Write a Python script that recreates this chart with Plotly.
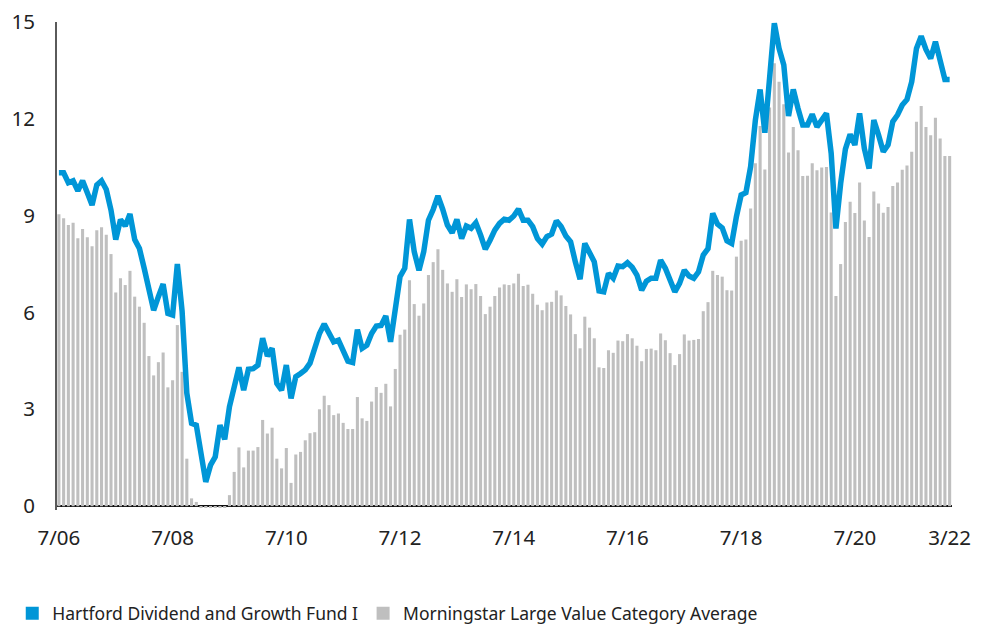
import plotly.graph_objects as go
import pandas as pd

# Monthly categories, July 2006 - March 2022
months = [d.strftime("%Y-%m") for d in pd.date_range("2006-07-01", "2022-03-01", freq="MS")]

fund_name = "Hartford Dividend and Growth Fund I"
cat_name = "Morningstar Large Value Category Average"

fund = [
    10.33, 10.33, 10.02, 10.08, 9.77, 10.08, 9.71, 9.33, 9.95, 10.08,
    9.81, 9.17, 8.26, 8.88, 8.68, 9.05, 8.26, 7.98, 7.37, 6.69,
    6.07, 6.49, 6.88, 5.97, 5.92, 7.50, 6.05, 3.50, 2.57, 2.51,
    1.74, 0.75, 1.27, 1.53, 2.51, 2.07, 3.08, 3.70, 4.30, 3.59,
    4.24, 4.26, 4.37, 5.20, 4.65, 4.89, 3.80, 3.59, 4.37, 3.34,
    4.01, 4.11, 4.22, 4.43, 4.86, 5.35, 5.64, 5.35, 5.09, 5.14,
    4.78, 4.49, 4.45, 5.47, 4.89, 4.99, 5.35, 5.58, 5.60, 5.89,
    5.09, 6.23, 7.11, 7.37, 8.88, 7.88, 7.31, 7.88, 8.86, 9.19,
    9.61, 9.20, 8.71, 8.47, 8.88, 8.29, 8.68, 8.61, 8.78, 8.40,
    7.96, 8.24, 8.55, 8.76, 8.89, 8.86, 8.99, 9.20, 8.86, 8.86,
    8.66, 8.29, 8.12, 8.35, 8.43, 8.84, 8.66, 8.37, 8.19, 7.57,
    7.03, 8.14, 7.84, 7.57, 6.67, 6.64, 7.21, 7.06, 7.44, 7.42,
    7.54, 7.40, 7.16, 6.69, 6.97, 7.06, 7.06, 7.62, 7.37, 6.95,
    6.64, 6.90, 7.31, 7.13, 7.06, 7.26, 7.78, 7.98, 9.07, 8.74,
    8.62, 8.22, 8.14, 8.97, 9.64, 9.71, 10.52, 11.96, 12.91, 11.57,
    13.30, 14.96, 14.18, 13.67, 12.09, 12.91, 12.32, 11.81, 11.81, 12.14,
    11.75, 11.98, 12.17, 10.93, 8.60, 10.00, 11.06, 11.52, 11.19, 12.17,
    11.08, 10.46, 11.96, 11.50, 10.98, 11.19, 11.91, 12.12, 12.43, 12.60,
    13.15, 14.18, 14.56, 14.15, 13.87, 14.39, 13.72, 13.22, 13.22,
]

category = [
    9.04, 8.92, 8.71, 8.78, 8.30, 8.59, 8.33, 8.05, 8.55, 8.64,
    8.41, 7.81, 6.62, 7.06, 6.85, 7.29, 6.49, 6.18, 5.68, 4.65,
    4.05, 4.46, 4.76, 3.68, 3.90, 5.61, 4.16, 1.47, 0.24, 0.13,
    -0.05, -0.05, -0.05, -0.05, -0.05, -0.05, 0.34, 1.06, 1.82, 1.20,
    1.72, 1.72, 1.83, 2.67, 2.25, 2.43, 1.47, 1.17, 1.80, 0.72,
    1.60, 1.68, 2.04, 2.26, 2.29, 3.00, 3.42, 3.13, 2.82, 2.87,
    2.58, 2.39, 2.39, 3.38, 2.72, 2.64, 3.24, 3.69, 3.51, 3.79,
    3.09, 4.25, 5.31, 5.47, 7.00, 6.26, 5.90, 6.28, 7.16, 7.56,
    7.96, 7.32, 6.90, 6.64, 7.03, 6.48, 6.87, 6.72, 6.88, 6.51,
    5.95, 6.18, 6.51, 6.77, 6.87, 6.85, 6.90, 7.20, 6.82, 6.86,
    6.58, 6.24, 6.07, 6.31, 6.33, 6.68, 6.53, 6.20, 5.94, 5.33,
    4.89, 5.87, 5.53, 5.20, 4.30, 4.28, 4.83, 4.75, 5.13, 5.11,
    5.33, 5.20, 4.97, 4.49, 4.87, 4.88, 4.83, 5.35, 5.14, 4.74,
    4.37, 4.71, 5.32, 5.13, 5.15, 5.18, 6.04, 6.32, 7.29, 7.16,
    7.11, 6.69, 6.68, 7.73, 8.22, 8.26, 9.22, 10.62, 11.78, 10.43,
    12.35, 13.72, 13.15, 12.45, 10.96, 11.75, 11.03, 10.23, 10.24, 10.62,
    10.41, 10.49, 10.51, 9.10, 6.51, 7.50, 8.80, 9.43, 9.08, 10.03,
    8.85, 8.34, 9.75, 9.38, 9.09, 9.27, 9.92, 10.03, 10.42, 10.55,
    10.98, 11.91, 12.40, 11.75, 11.49, 12.03, 11.39, 10.85, 10.85,
]

tick_months = ["2006-07", "2008-07", "2010-07", "2012-07", "2014-07",
               "2016-07", "2018-07", "2020-07", "2022-03"]
tick_labels = ["7/06", "7/08", "7/10", "7/12", "7/14", "7/16", "7/18", "7/20", "3/22"]
y_ticks = [0, 3, 6, 9, 12, 15]

BLUE = "#0096D7"
GREY = "#BFBFBF"
FONT = "Noto Sans, Open Sans, sans-serif"
TXT = "#222222"

fig = go.Figure()
fig.add_trace(go.Bar(x=months, y=category, marker_color=GREY, marker_line_width=0,
                     name=cat_name, showlegend=False))
fig.add_trace(go.Scatter(x=months, y=fund, mode="lines",
                         line=dict(color=BLUE, width=5.5), name=fund_name,
                         showlegend=False))
# legend swatches
fig.add_trace(go.Scatter(x=[None], y=[None], mode="markers", name=fund_name,
                         marker=dict(symbol="square", size=13, color=BLUE)))
fig.add_trace(go.Scatter(x=[None], y=[None], mode="markers", name=cat_name,
                         marker=dict(symbol="square", size=13, color=GREY)))

fig.update_layout(
    width=973, height=616,
    margin=dict(l=49, r=29, t=14, b=114, autoexpand=False),
    paper_bgcolor="white", plot_bgcolor="white",
    font=dict(family=FONT, size=20, color=TXT),
    bargap=0.35,
    showlegend=True,
    legend=dict(orientation="h", x=-0.05, xanchor="left", y=-0.212, yanchor="middle",
                font=dict(family=FONT, size=17.5, color=TXT), itemwidth=30,
                tracegroupgap=0),
)
fig.update_xaxes(
    type="category", range=[-0.4, 188.5], automargin=False,
    tickmode="array", tickvals=tick_months, ticktext=tick_labels,
    ticks="outside", ticklen=9, tickcolor="rgba(0,0,0,0)",
    showline=False, showgrid=False, zeroline=False,
    tickfont=dict(size=20.5, color=TXT), ticklabeloverflow="allow",
)
fig.update_yaxes(
    range=[-0.12, 15.0], automargin=False,
    tickmode="array", tickvals=y_ticks,
    ticks="outside", ticklen=16, tickcolor="rgba(0,0,0,0)",
    showline=True, linecolor="#5A5A5A", linewidth=2,
    showgrid=False, zeroline=True, zerolinecolor="#111111", zerolinewidth=1.5,
    tickfont=dict(size=20.5, color=TXT), ticklabeloverflow="allow",
)

fig.write_html("out.html")
